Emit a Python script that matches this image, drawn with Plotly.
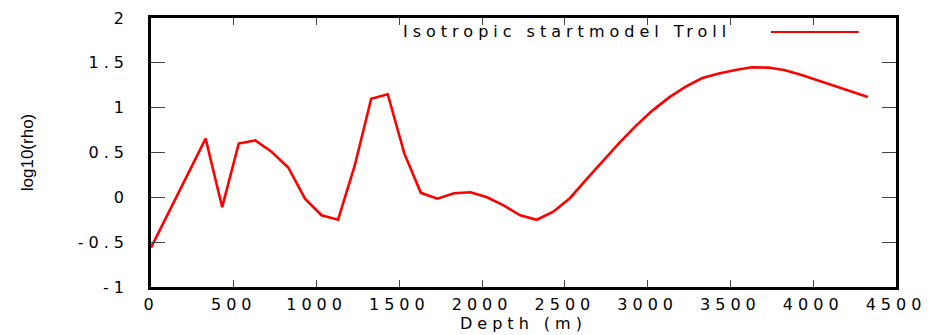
import plotly.graph_objects as go

# Resistivity start model along depth
depth_m = [0, 330, 430, 530, 630, 730, 830, 930, 1030, 1130, 1230, 1330, 1430,
           1530, 1630, 1730, 1830, 1930, 2030, 2130, 2230, 2330, 2430, 2530,
           2630, 2730, 2830, 2930, 3030, 3130, 3230, 3330, 3430, 3530, 3630,
           3730, 3830, 3930, 4030, 4130, 4230, 4330]
log_rho = [-0.56, 0.655, -0.11, 0.60, 0.635, 0.505, 0.33, -0.015, -0.20, -0.25,
           0.35, 1.10, 1.15, 0.49, 0.05, -0.015, 0.045, 0.056, 0.0, -0.09,
           -0.20, -0.25, -0.16, -0.01, 0.20, 0.405, 0.61, 0.80, 0.97, 1.115,
           1.235, 1.33, 1.38, 1.42, 1.45, 1.447, 1.417, 1.365, 1.306, 1.24,
           1.18, 1.12]

x_ticks = [0, 500, 1000, 1500, 2000, 2500, 3000, 3500, 4000, 4500]
x_tick_labels = ["0", "500", "1000", "1500", "2000", "2500", "3000", "3500", "4000", "4500"]
y_ticks = [-1, -0.5, 0, 0.5, 1, 1.5, 2]
y_tick_labels = ["-1", "-0.5", "0", "0.5", "1", "1.5", "2"]

series_name = "Isotropic startmodel Troll"
x_title = "Depth (m)"
y_title = "log10(rho)"

FONT = "DejaVu Sans"
SIZE = 16
SPACING = 5


def spaced(text, px=SPACING):
    return f'<span style="letter-spacing:{px}px">{text}</span>'


fig = go.Figure()
fig.add_trace(go.Scatter(
    x=depth_m, y=log_rho, mode="lines", name=series_name,
    line=dict(color="#ff0000", width=2.6), showlegend=False,
))

axis_common = dict(
    showline=True, linecolor="black", linewidth=2.5, mirror="allticks",
    ticks="inside", tickcolor="#444444", tickwidth=1.2,
    showgrid=False, zeroline=False, automargin=False,
    tickfont=dict(family=FONT, size=SIZE, color="black"),
)

fig.update_xaxes(
    range=[0, 4500], tickvals=x_ticks, ticktext=[spaced(t) for t in x_tick_labels],
    ticklen=7, ticklabelstandoff=1,
    title=dict(text=spaced(x_title), font=dict(family=FONT, size=SIZE, color="black"), standoff=2),
    **axis_common,
)
fig.update_yaxes(
    range=[-1, 2], tickvals=y_ticks, ticktext=[spaced(t) for t in y_tick_labels],
    ticklen=14, ticklabelstandoff=16,
    title=dict(text=y_title, font=dict(family="Liberation Sans", size=17, color="black"), standoff=40),
    **axis_common,
)

# Key: label text followed by a line sample, drawn inside the frame
fig.add_annotation(
    xref="paper", yref="paper", x=0.781, y=0.948, xanchor="right", yanchor="middle",
    text=spaced(series_name), showarrow=False,
    font=dict(family=FONT, size=SIZE, color="black"),
)
fig.add_shape(
    type="line", xref="paper", yref="paper", x0=0.832, x1=0.950, y0=0.948, y1=0.948,
    line=dict(color="#ff0000", width=2),
)

fig.update_layout(
    width=937, height=335,
    margin=dict(l=151, r=41, t=18, b=48),
    paper_bgcolor="white", plot_bgcolor="white",
)

fig.write_html("out.html")
